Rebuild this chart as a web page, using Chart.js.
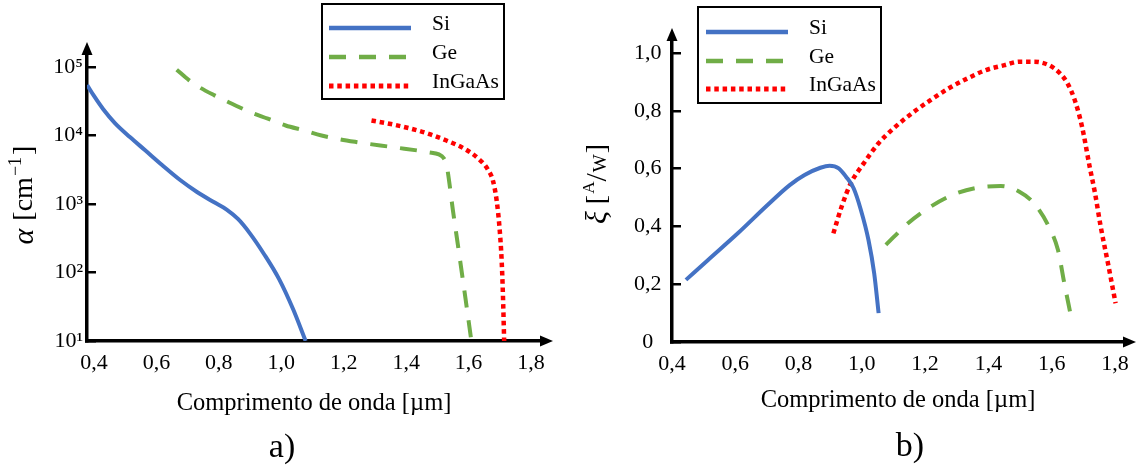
<!DOCTYPE html>
<html>
<head>
<meta charset="utf-8">
<script src="https://cdn.jsdelivr.net/npm/chart.js@4.4.1/dist/chart.umd.min.js"></script>
<style>
  body { margin: 0; background: #fff; }
  #wrap { position: relative; width: 1139px; height: 468px; }
  #wrap canvas { position: absolute; top: 0; }
  #absCanvas { left: 0; }
  #respCanvas { left: 560px; }
</style>
</head>
<body>
<div id="wrap">
  <canvas id="absCanvas" width="560" height="468"></canvas>
  <canvas id="respCanvas" width="579" height="468"></canvas>
</div>
<script>
// wavelength axis (µm), shared by both panels
const xTicks = [0.4, 0.6, 0.8, 1.0, 1.2, 1.4, 1.6, 1.8];
const xTickLabels = ['0,4', '0,6', '0,8', '1,0', '1,2', '1,4', '1,6', '1,8'];

// a) absorption coefficient, cm^-1
const absTicks = [10, 100, 1000, 10000, 100000];
const absTickLabels = ['10¹', '10²', '10³', '10⁴', '10⁵'];

const siAbsLambda = [0.378, 0.40, 0.429, 0.467, 0.515, 0.563, 0.618, 0.676, 0.73, 0.785, 0.825, 0.862, 0.9, 0.945, 0.993, 1.038, 1.078];
const siAbsAlpha  = [54600, 37800, 24400, 15200, 9500, 6140, 3710, 2240, 1500, 1060, 830, 600, 370, 185, 80, 29, 10];

const geAbsLambda = [0.665, 0.705, 0.740, 0.786, 0.842, 0.90, 0.957, 1.014, 1.072, 1.129, 1.243, 1.358, 1.472, 1.505, 1.52, 1.53, 1.55, 1.57, 1.59, 1.609];
const geAbsAlpha  = [91600, 64000, 50000, 38600, 29100, 22000, 17600, 14000, 11900, 10000, 8000, 6760, 5700, 5300, 4700, 3600, 800, 185, 42, 10];

const ingaasAbsLambda = [1.289, 1.358, 1.415, 1.472, 1.529, 1.587, 1.632, 1.661, 1.678, 1.69, 1.699, 1.706, 1.71, 1.714];
const ingaasAbsAlpha  = [16600, 14500, 12600, 10600, 8450, 6400, 4570, 3240, 2190, 1120, 457, 148, 48, 10];

// b) responsivity, A/W
const respTicks = [0, 0.2, 0.4, 0.6, 0.8, 1.0];
const respTickLabels = ['0', '0,2', '0,4', '0,6', '0,8', '1,0'];

const siRespLambda = [0.444, 0.514, 0.608, 0.702, 0.772, 0.819, 0.869, 0.898, 0.927, 0.95, 0.974, 0.997, 1.021, 1.039, 1.053];
const siResp       = [0.215, 0.284, 0.376, 0.474, 0.543, 0.578, 0.603, 0.61, 0.601, 0.572, 0.532, 0.457, 0.353, 0.238, 0.10];

const geRespLambda = [1.076, 1.146, 1.217, 1.287, 1.357, 1.439, 1.498, 1.544, 1.591, 1.62, 1.64, 1.659];
const geResp       = [0.336, 0.411, 0.468, 0.509, 0.532, 0.54, 0.52, 0.48, 0.399, 0.318, 0.203, 0.10];

const ingaasRespLambda = [0.91, 0.936, 0.965, 1.006, 1.053, 1.1, 1.158, 1.217, 1.275, 1.334, 1.392, 1.451, 1.498, 1.544, 1.591, 1.626, 1.65, 1.673, 1.696, 1.72, 1.737, 1.755, 1.778, 1.802];
const ingaasResp       = [0.376, 0.468, 0.549, 0.618, 0.688, 0.739, 0.791, 0.837, 0.878, 0.912, 0.941, 0.958, 0.97, 0.97, 0.958, 0.93, 0.895, 0.837, 0.745, 0.607, 0.515, 0.399, 0.272, 0.134];

const serif = "'Liberation Serif', 'Times New Roman', serif";
Chart.defaults.font.family = serif;
Chart.defaults.color = '#000';

const styles = {
  Si:     { borderColor: '#4472C4', borderWidth: 4 },
  Ge:     { borderColor: '#70AD47', borderWidth: 4, borderDash: [17, 13] },
  InGaAs: { borderColor: '#FF0000', borderWidth: 4.5, borderDash: [4.5, 3.8] }
};

function series(label, xs, ys) {
  return Object.assign({
    label,
    data: xs.map((x, i) => ({ x, y: ys[i] })),
    pointRadius: 0,
    fill: false,
    borderCapStyle: 'butt',
    cubicInterpolationMode: 'monotone'
  }, styles[label]);
}

function arrow(ctx, x, y, dir) {
  const len = 12, half = 5.5;
  ctx.beginPath();
  if (dir === 'up') {
    ctx.moveTo(x, y - len);
    ctx.lineTo(x - half, y + 1);
    ctx.lineTo(x + half, y + 1);
  } else {
    ctx.moveTo(x + len, y);
    ctx.lineTo(x - 1, y - half);
    ctx.lineTo(x - 1, y + half);
  }
  ctx.closePath();
  ctx.fill();
}

// rotated axis title made of several font runs (super/subscripts)
function richTitle(ctx, pieces, cx, cy) {
  let total = 0;
  pieces.forEach(p => {
    ctx.font = p.font;
    p.w = ctx.measureText(p.text).width + (p.gap || 0);
    total += p.w;
  });
  ctx.save();
  ctx.translate(cx, cy);
  ctx.rotate(-Math.PI / 2);
  ctx.textAlign = 'left';
  ctx.textBaseline = 'middle';
  let x = -total / 2;
  pieces.forEach(p => {
    ctx.font = p.font;
    ctx.fillText(p.text, x, p.dy || 0);
    x += p.w;
  });
  ctx.restore();
}

const decor = {
  id: 'decor',
  afterDraw(chart, args, o) {
    const { ctx, chartArea: a } = chart;
    ctx.save();
    ctx.fillStyle = '#000';
    arrow(ctx, a.left, a.top, 'up');
    arrow(ctx, a.right, a.bottom, 'right');

    richTitle(ctx, o.yTitle.pieces, o.yTitle.x, o.yTitle.y);

    ctx.font = '34px ' + serif;
    ctx.textAlign = 'center';
    ctx.textBaseline = 'middle';
    ctx.fillText(o.caption.text, o.caption.x, o.caption.y);

    // boxed legend
    const L = o.legend;
    ctx.strokeStyle = '#000';
    ctx.lineWidth = 2;
    ctx.setLineDash([]);
    ctx.strokeRect(L.box[0], L.box[1], L.box[2] - L.box[0], L.box[3] - L.box[1]);
    chart.data.datasets.forEach((ds, i) => {
      const y = L.rows[i];
      ctx.save();
      ctx.strokeStyle = ds.borderColor;
      ctx.lineWidth = ds.borderWidth + 0.5;
      ctx.lineCap = 'butt';
      ctx.setLineDash(ds.borderDash || []);
      ctx.beginPath();
      ctx.moveTo(L.lineX[0], y);
      ctx.lineTo(L.lineX[1], y);
      ctx.stroke();
      ctx.restore();
      ctx.font = '21.5px ' + serif;
      ctx.textAlign = 'left';
      ctx.textBaseline = 'alphabetic';
      ctx.fillText(ds.label, L.textX, y + 2);
    });
    ctx.restore();
  }
};

function xScale(min, max, height) {
  return {
    type: 'linear', min, max,
    afterBuildTicks: s => { s.ticks = xTicks.map(v => ({ value: v })); },
    afterFit: s => { s.height = height; },
    grid: { display: false, drawTicks: false },
    border: { display: true, color: '#000', width: 3.5 },
    ticks: { autoSkip: false, maxRotation: 0, padding: 9, font: { size: 22 },
             callback: (v, i) => xTickLabels[i] },
    title: { display: true, text: 'Comprimento de onda [µm]', font: { size: 24.5 }, padding: 0 }
  };
}

// a) absorption coefficient
new Chart(document.getElementById('absCanvas'), {
  type: 'line',
  data: {
    datasets: [
      series('Si', siAbsLambda, siAbsAlpha),
      series('Ge', geAbsLambda, geAbsAlpha),
      series('InGaAs', ingaasAbsLambda, ingaasAbsAlpha)
    ]
  },
  plugins: [decor],
  options: {
    responsive: false,
    animation: false,
    devicePixelRatio: 1,
    layout: { padding: { left: 0, top: 54, right: 19, bottom: 50 } },
    scales: {
      x: xScale(0.3776, 1.832, 77),
      y: {
        type: 'logarithmic', min: 10, max: 155000,
        afterBuildTicks: s => { s.ticks = absTicks.map(v => ({ value: v })); },
        afterFit: s => { s.width = 87; },
        grid: { drawOnChartArea: false, drawTicks: true, tickLength: -9, color: '#000', lineWidth: 2.5 },
        border: { display: true, color: '#000', width: 3.5 },
        ticks: { autoSkip: false, padding: 13, font: { size: 22 },
                 callback: (v, i) => absTickLabels[i] }
      }
    },
    plugins: {
      legend: { display: false },
      tooltip: { enabled: false },
      decor: {
        yTitle: {
          x: 25, y: 195,
          pieces: [
            { text: 'α', font: 'italic 30px ' + serif, gap: 8 },
            { text: '[cm', font: '28px ' + serif, gap: 1 },
            { text: '−1', font: '18px ' + serif, dy: -9, gap: 2 },
            { text: ']', font: '28px ' + serif }
          ]
        },
        caption: { text: 'a)', x: 282, y: 448 },
        legend: { box: [322, 4, 504, 99], lineX: [329, 411], rows: [28, 57, 86], textX: 432 }
      }
    }
  }
});

// b) responsivity
new Chart(document.getElementById('respCanvas'), {
  type: 'line',
  data: {
    datasets: [
      series('Si', siRespLambda, siResp),
      series('Ge', geRespLambda, geResp),
      series('InGaAs', ingaasRespLambda, ingaasResp)
    ]
  },
  plugins: [decor],
  options: {
    responsive: false,
    animation: false,
    devicePixelRatio: 1,
    layout: { padding: { left: 0, top: 40, right: 15, bottom: 53 } },
    scales: {
      x: xScale(0.4, 1.8286, 73),
      y: {
        type: 'linear', min: 0, max: 1.045,
        afterBuildTicks: s => { s.ticks = respTicks.map(v => ({ value: v })); },
        afterFit: s => { s.width = 112; },
        grid: { drawOnChartArea: false, drawTicks: true, tickLength: -9, color: '#000', lineWidth: 2.5 },
        border: { display: true, color: '#000', width: 3.5 },
        ticks: { autoSkip: false, padding: 19.5, crossAlign: 'center', font: { size: 22 },
                 callback: (v, i) => respTickLabels[i] }
      }
    },
    plugins: {
      legend: { display: false },
      tooltip: { enabled: false },
      decor: {
        yTitle: {
          x: 38, y: 184,
          pieces: [
            { text: 'ξ', font: 'italic 30px ' + serif, gap: 7 },
            { text: '[', font: '28px ' + serif, gap: 1 },
            { text: 'A', font: '17px ' + serif, dy: -8 },
            { text: '/', font: '30px ' + serif, gap: 1 },
            { text: 'W', font: '19px ' + serif, dy: 3, gap: 1 },
            { text: ']', font: '28px ' + serif }
          ]
        },
        caption: { text: 'b)', x: 350, y: 447 },
        legend: { box: [138, 7, 321, 103], lineX: [146, 228], rows: [32, 61, 89], textX: 249 }
      }
    }
  }
});
</script>
</body>
</html>
